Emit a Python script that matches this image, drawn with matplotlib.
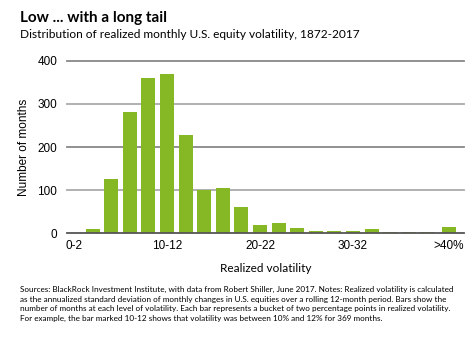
import matplotlib
matplotlib.use("Agg")
import matplotlib.pyplot as plt
import numpy as np

################################################################################
# Data                                                      #
################################################################################
buckets = ["0-2", "2-4", "4-6", "6-8", "8-10", "10-12", "12-14", "14-16",
           "16-18", "18-20", "20-22", "22-24", "24-26", "26-28", "28-30",
           "30-32", "32-34", "34-36", "36-38", "38-40", ">40%"]
months = [0, 11, 127, 280, 360, 369, 228, 100, 104, 62, 20, 25, 12, 6, 6,
          6, 11, 4, 2, 4, 15]
shown_labels = ["0-2", "10-12", "20-22", "30-32", ">40%"]
y_ticks = [0, 100, 200, 300, 400]

title = "Low ... with a long tail"
subtitle = "Distribution of realized monthly U.S. equity volatility, 1872-2017"
notes = ("Sources: BlackRock Investment Institute, with data from Robert Shiller, June 2017. Notes: Realized volatility is calculated\n"
         "as the annualized standard deviation of monthly changes in U.S. equities over a rolling 12-month period. Bars show the\n"
         "number of months at each level of volatility. Each bar represents a bucket of two percentage points in realized volatility.\n"
         "For example, the bar marked 10-12 shows that volatility was between 10% and 12% for 369 months.")

bar_color = "#86b825"
txt_font = "Lato"
num_font = "Liberation Sans"

################################################################################
# Bar positions: the >40% bucket sits a bit apart from the rest                #
################################################################################
pos = np.arange(len(buckets), dtype=float)
pos[-1] += 0.15

fig = plt.figure(figsize=(4.76, 3.43), dpi=100)
ax = fig.add_axes([0.1408, 0.3198, 0.834, 0.5032])

ax.bar(pos, months, width=0.75, color=bar_color, zorder=3)

# gridlines: 100/300 slightly lighter than 200/400, baseline dark
grid_col = {0: "#555555", 100: "#aaaaaa", 200: "#888888", 300: "#aaaaaa", 400: "#888888"}
for t in y_ticks:
    ax.axhline(t, color=grid_col[t], lw=1.3, zorder=4 if t == 0 else 1, clip_on=False)

ax.set_xlim(-0.376, 20.97)
ax.set_ylim(0, 400)
ax.set_yticks(y_ticks)
ax.set_yticklabels([str(t) for t in y_ticks], fontfamily=num_font, fontsize=8.5)
tick_pos = [pos[buckets.index(b)] for b in shown_labels]
ax.set_xticks(tick_pos)
ax.set_xticklabels(shown_labels, fontfamily=num_font, fontsize=8.5)
ax.tick_params(length=0, pad=5)
ax.tick_params(axis="y", pad=7)
for s in ax.spines.values():
    s.set_visible(False)

ax.set_ylabel("Number of months", fontfamily=num_font, fontsize=8.5, labelpad=5)
ax.set_xlabel("Realized volatility", fontfamily=txt_font, fontsize=8.5, labelpad=8)

fig.text(20 / 476, 1 - 18 / 343, title, fontfamily=txt_font, fontweight="bold",
         fontsize=11, va="center", ha="left")
fig.text(20 / 476, 1 - 35 / 343, subtitle, fontfamily=txt_font, fontsize=8.6,
         va="center", ha="left")
fig.text(20 / 476, 1 - 286 / 343, notes, fontfamily=txt_font, fontsize=5.85,
         va="top", ha="left", linespacing=1.45)

fig.savefig("out.png", dpi=100)
